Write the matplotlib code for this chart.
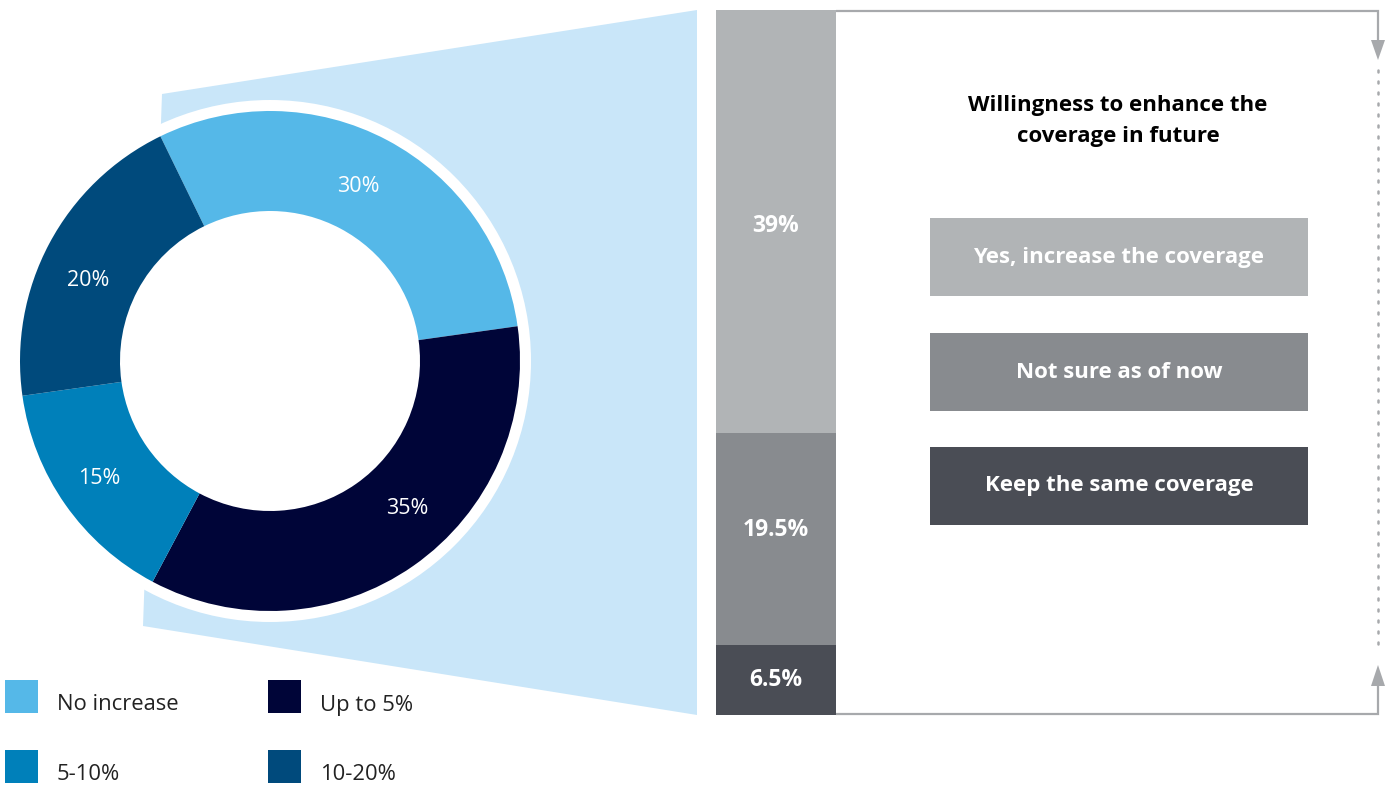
import matplotlib.pyplot as plt
from matplotlib.patches import Polygon, Circle, Rectangle

plt.rcParams['font.family'] = ['Open Sans', 'DejaVu Sans']

# donut: expected increase in coverage
donut_labels = ['No increase', 'Up to 5%', '5-10%', '10-20%']
donut_values = [30, 35, 15, 20]
donut_colors = ['#55B8E8', '#000538', '#0080BA', '#004A7C']

# stacked bar: willingness to enhance the coverage in future
bar_labels = ['Keep the same coverage', 'Not sure as of now', 'Yes, increase the coverage']
bar_values = [6.5, 19.5, 39]
bar_colors = ['#4A4D55', '#888B8F', '#B1B4B6']
bar_title = 'Willingness to enhance the\ncoverage in future'

W, H = 1390, 785
fig = plt.figure(figsize=(W / 100, H / 100), dpi=100)
ax = fig.add_axes([0, 0, 1, 1])


def py(y):
    # top-based pixel row -> axes y
    return H - y


# light blue callout linking the donut to the bar
ax.add_patch(Polygon([(162, py(94)), (697, py(10)), (697, py(715)), (143, py(626))],
                     closed=True, facecolor='#C9E6F9', edgecolor='none', zorder=1))

cx, cy = 270, py(361)
ax.add_patch(Circle((cx, cy), 261, facecolor='white', edgecolor='none', zorder=2))

wedges, texts, autotexts = ax.pie(
    donut_values, colors=donut_colors, startangle=116, counterclock=False,
    radius=250, center=(cx, cy), frame=True,
    wedgeprops=dict(width=100, edgecolor='none'),
    autopct='%d%%', pctdistance=0.8,
    textprops=dict(color='white', fontsize=15.5))
for w in wedges:
    w.set_zorder(3)

# nudge the percentage labels inside the ring
pct_pos = [(358, 187), (407, 509), (99, 479), (88, 280)]
for t, (tx, ty) in zip(autotexts, pct_pos):
    t.set_position((tx, py(ty)))
    t.set_zorder(4)

ax.set_xlim(0, W)
ax.set_ylim(0, H)
ax.set_aspect('equal')
ax.axis('off')

# legend for the donut
leg_pos = [(5, 680), (268, 680), (5, 750), (268, 750)]
for (lx, ly), lab, col in zip(leg_pos, donut_labels, donut_colors):
    ax.add_patch(Rectangle((lx, py(ly + 33)), 33, 33, facecolor=col, edgecolor='none'))
    ax.text(lx + 52, py(ly + 25), lab, fontsize=15.8, color='#222222', va='center', ha='left')

# bracket with arrows on the right
gray = '#A7A9AC'
ax.plot([836, 1378, 1378], [py(11), py(11), py(42)], color=gray, lw=1.6,
        solid_joinstyle='miter', solid_capstyle='butt')
ax.plot([836, 1378, 1378], [py(714), py(714), py(684)], color=gray, lw=1.6,
        solid_joinstyle='miter', solid_capstyle='butt')
ax.add_patch(Polygon([(1371, py(40)), (1385, py(40)), (1378, py(60))], closed=True,
                     facecolor=gray, edgecolor='none'))
ax.add_patch(Polygon([(1371, py(686)), (1385, py(686)), (1378, py(665))], closed=True,
                     facecolor=gray, edgecolor='none'))
ax.plot([1378, 1378], [py(70), py(652)], color=gray, lw=1.8, linestyle=(0, (0.8, 3.6)),
        dash_capstyle='round')

# stacked bar in its own axes
bax = fig.add_axes([716 / W, 70 / H, 120 / W, 705 / H])
label_shift = [0, 0.8, -0.4]  # small vertical tweaks for the segment labels
bottom = 0
for val, col, dy in zip(bar_values, bar_colors, label_shift):
    bax.bar(0, val, width=1, bottom=bottom, color=col, edgecolor='none')
    lab = f'{val:g}%'
    bax.text(0, bottom + val / 2 + dy, lab, color='white', fontsize=16.5, fontweight='bold',
             ha='center', va='center')
    bottom += val
bax.set_xlim(-0.5, 0.5)
bax.set_ylim(0, sum(bar_values))
bax.axis('off')

# bar legend boxes
ax.text(1118, py(121), bar_title, fontsize=16, fontweight='bold', color='black',
        ha='center', va='center', linespacing=1.6)
box_tops = [447, 333, 218]
for top, lab, col in zip(box_tops, bar_labels, bar_colors):
    ax.add_patch(Rectangle((930, py(top + 78)), 378, 78, facecolor=col, edgecolor='none'))
    ax.text(1119, py(top + 39), lab, fontsize=16, fontweight='bold', color='white',
            ha='center', va='center')

fig.savefig('out.png', dpi=100)
